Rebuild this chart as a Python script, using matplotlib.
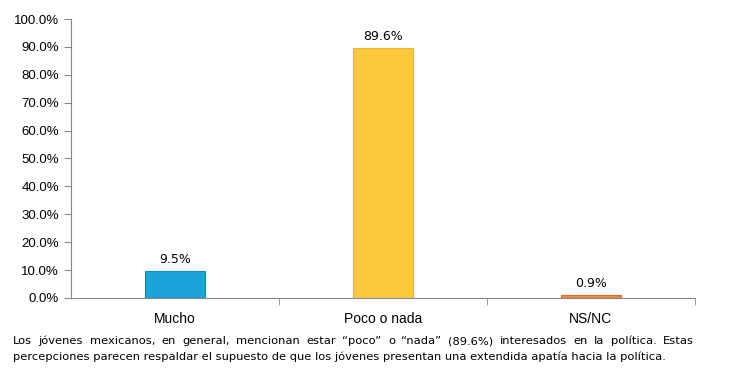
import numpy as np
import matplotlib.pyplot as plt
from matplotlib.ticker import FuncFormatter

categories = ['Mucho', 'Poco o nada', 'NS/NC']
values = [9.5, 89.6, 0.9]
colors = ['#1ba3da', '#fcc83e', '#ee8a3a']
edges = ['#1688b8', '#f0b030', '#d8702a']

caption1 = ('Los jóvenes mexicanos, en general, mencionan estar \u201cpoco\u201d o '
            '\u201cnada\u201d (89.6%) interesados en la política. Estas')
caption2 = ('percepciones parecen respaldar el supuesto de que los jóvenes '
            'presentan una extendida apatía hacia la política.')

fig = plt.figure(figsize=(7.32, 3.81), dpi=100)
ax = fig.add_axes([0.097, 0.218, 0.852, 0.732])

x = np.arange(len(categories))
ax.bar(x, values, width=0.29, color=colors, edgecolor=edges, linewidth=0.8)
for xi, v in zip(x, values):
    ax.text(xi, v + 1.8, f'{v:.1f}%', ha='center', va='bottom',
            fontsize=9, family='DejaVu Sans')

ax.set_xlim(-0.5, len(categories) - 0.5)
ax.set_ylim(0, 100)
ax.set_yticks(np.arange(0, 101, 10))
ax.yaxis.set_major_formatter(FuncFormatter(lambda v, p: f'{v:.1f}%'))
ax.set_xticks(x)
ax.set_xticklabels(categories, fontsize=10, family='Liberation Sans')
ax.set_xticks(np.arange(0.5, len(categories), 1), minor=True)
ax.tick_params(axis='x', which='major', length=0, pad=10)
ax.tick_params(axis='x', which='minor', length=5, color='#888888')
ax.tick_params(axis='y', length=5, color='#888888', labelsize=9.5)
for lab in ax.get_yticklabels():
    lab.set_family('Liberation Sans')

for s in ['top', 'right']:
    ax.spines[s].set_visible(False)
for s in ['left', 'bottom']:
    ax.spines[s].set_color('#888888')

# caption, first line justified to the axis width
fig.canvas.draw()
r = fig.canvas.get_renderer()
words = caption1.split(' ')
left, right = 13 / 732, 694 / 732
fs = 8.25
widths = []
for w in words:
    t = fig.text(0, 0, w, fontsize=fs, family='DejaVu Sans')
    widths.append(t.get_window_extent(r).width / fig.bbox.width)
    t.remove()
gap = (right - left - sum(widths)) / (len(words) - 1)
pos = left
for w, wd in zip(words, widths):
    fig.text(pos, 1 - 341 / 381, w, fontsize=fs, family='DejaVu Sans', va='center')
    pos += wd + gap
fig.text(left, 1 - 357 / 381, caption2, fontsize=fs, family='DejaVu Sans', va='center')

fig.savefig('out.png', dpi=100)
